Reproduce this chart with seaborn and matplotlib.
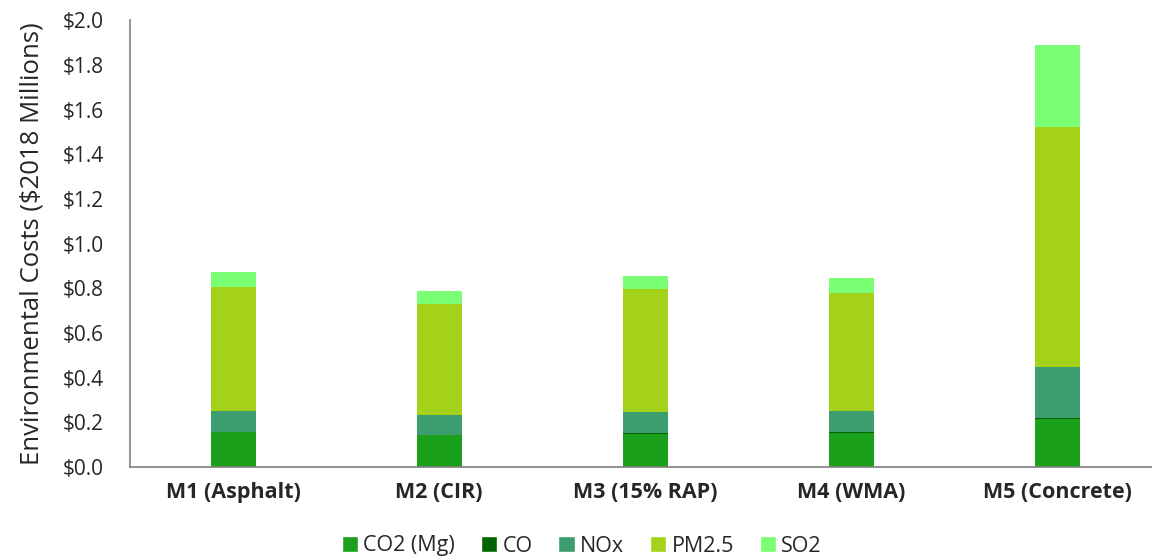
import numpy as np
import pandas as pd
import matplotlib
matplotlib.use('Agg')
import matplotlib.pyplot as plt
import seaborn as sns
from matplotlib.patches import Patch

categories = ['M1 (Asphalt)', 'M2 (CIR)', 'M3 (15% RAP)', 'M4 (WMA)', 'M5 (Concrete)']
pollutants = ['CO2 (Mg)', 'CO', 'NOx', 'PM2.5', 'SO2']

co2 = [0.155, 0.143, 0.150, 0.153, 0.215]
co = [0.002, 0.002, 0.002, 0.002, 0.003]
nox = [0.096, 0.089, 0.093, 0.096, 0.231]
pm25 = [0.553, 0.495, 0.550, 0.528, 1.074]
so2 = [0.066, 0.060, 0.058, 0.066, 0.367]

colors = ['#1AA01A', '#006400', '#3C9D6E', '#A4D11A', '#7AFF74']

sns.set_style('white')
plt.rcParams['font.family'] = ['Open Sans', 'DejaVu Sans']

df = pd.DataFrame({'Category': categories, 'CO2 (Mg)': co2, 'CO': co,
                   'NOx': nox, 'PM2.5': pm25, 'SO2': so2})
cum = df[pollutants].cumsum(axis=1)

fig = plt.figure(figsize=(11.52, 5.6), dpi=100)
ax = fig.add_axes([0.113, 0.166, 0.887, 0.798])

# stacked bars: draw cumulative totals from top layer down
for name, col in reversed(list(zip(pollutants, colors))):
    sns.barplot(x=df['Category'], y=cum[name], color=col, width=0.22,
                saturation=1, ax=ax, linewidth=0)

ax.set_ylim(0, 2.0)
ax.set_xlim(-0.5, 4.46)
ax.set_yticks(np.arange(0, 2.01, 0.2))
ax.set_yticklabels([f'${v:.1f}' for v in np.arange(0, 2.01, 0.2)], fontsize=15)
ax.set_xticks(range(len(categories)))
ax.set_xticklabels(categories, fontsize=15.5, fontweight='bold')
ax.set_xlabel('')
ax.set_ylabel('Environmental Costs ($2018 Millions)', fontsize=18.5, labelpad=13)
ax.tick_params(axis='y', length=0, pad=19)
ax.tick_params(axis='x', length=0, pad=11)

for s in ['top', 'right']:
    ax.spines[s].set_visible(False)
for s in ['left', 'bottom']:
    ax.spines[s].set_color('#7f7f7f')
    ax.spines[s].set_linewidth(1.2)

handles = [Patch(facecolor=c, label=n) for n, c in zip(pollutants, colors)]
fig.legend(handles=handles, loc='center', ncol=5, frameon=False,
           fontsize=15.5, handlelength=0.75, handleheight=0.75, handletextpad=0.25,
           columnspacing=1.2, bbox_to_anchor=(0.505, 0.025))

fig.savefig('out.png', dpi=100)
